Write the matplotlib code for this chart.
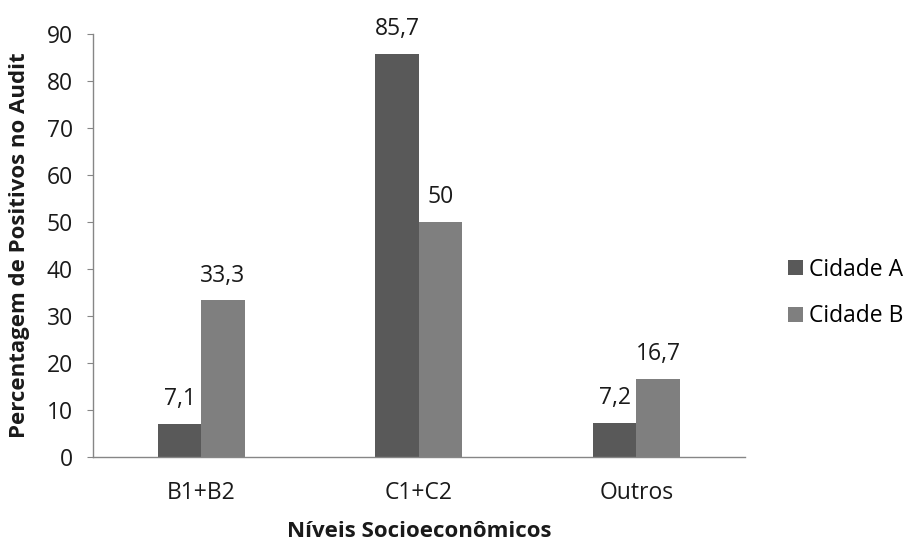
import matplotlib
matplotlib.use("Agg")
import matplotlib.pyplot as plt
import numpy as np

plt.rcParams['font.family'] = ['Open Sans', 'DejaVu Sans']

categorias = ["B1+B2", "C1+C2", "Outros"]
cidade_a = [7.1, 85.7, 7.2]
cidade_b = [33.3, 50.0, 16.7]
rotulos_a = ["7,1", "85,7", "7,2"]
rotulos_b = ["33,3", "50", "16,7"]
yticks = [0, 10, 20, 30, 40, 50, 60, 70, 80, 90]

cor_a = "#595959"
cor_b = "#7f7f7f"
cor_eixo = "#868686"
cor_texto = "#1a1a1a"
fs = 16.5

fig = plt.figure(figsize=(9.07, 5.42), dpi=100)
ax = fig.add_axes([0.102, 0.1568, 0.7194, 0.7805])

x = np.arange(len(categorias))
w = 0.2
ax.bar(x - w / 2, cidade_a, w, color=cor_a, label="Cidade A")
ax.bar(x + w / 2, cidade_b, w, color=cor_b, label="Cidade B")

for xi, v, t in zip(x - w / 2, cidade_a, rotulos_a):
    ax.text(xi, v + 4, t, ha="center", va="baseline", fontsize=fs, color=cor_texto)
for xi, v, t in zip(x + w / 2, cidade_b, rotulos_b):
    ax.text(xi, v + 4, t, ha="center", va="baseline", fontsize=fs, color=cor_texto)

ax.set_xlim(-0.5, 2.5)
ax.set_ylim(0, 90)
ax.set_yticks(yticks)
ax.set_yticklabels([str(t) for t in yticks], fontsize=fs, color=cor_texto)
ax.set_xticks(x)
ax.set_xticklabels(categorias, fontsize=fs, color=cor_texto)
ax.tick_params(axis="x", length=0, pad=17)
ax.tick_params(axis="y", length=4, color=cor_eixo, pad=10)

for s in ["top", "right"]:
    ax.spines[s].set_visible(False)
for s in ["left", "bottom"]:
    ax.spines[s].set_color(cor_eixo)
    ax.spines[s].set_linewidth(1.0)

ax.set_ylabel("Percentagem de Positivos no Audit", fontsize=16, fontweight="bold",
              color=cor_texto, labelpad=12)
ax.set_xlabel("Níveis Socioeconômicos", fontsize=16, fontweight="bold",
              color=cor_texto, labelpad=12)

fig.legend(loc="center left", bbox_to_anchor=(0.8688, 0.4594), frameon=False,
           fontsize=fs, handlelength=0.65, handleheight=0.65, handletextpad=0.28,
           labelspacing=1.0, borderpad=0, borderaxespad=0)

fig.savefig("out.png", dpi=100)
